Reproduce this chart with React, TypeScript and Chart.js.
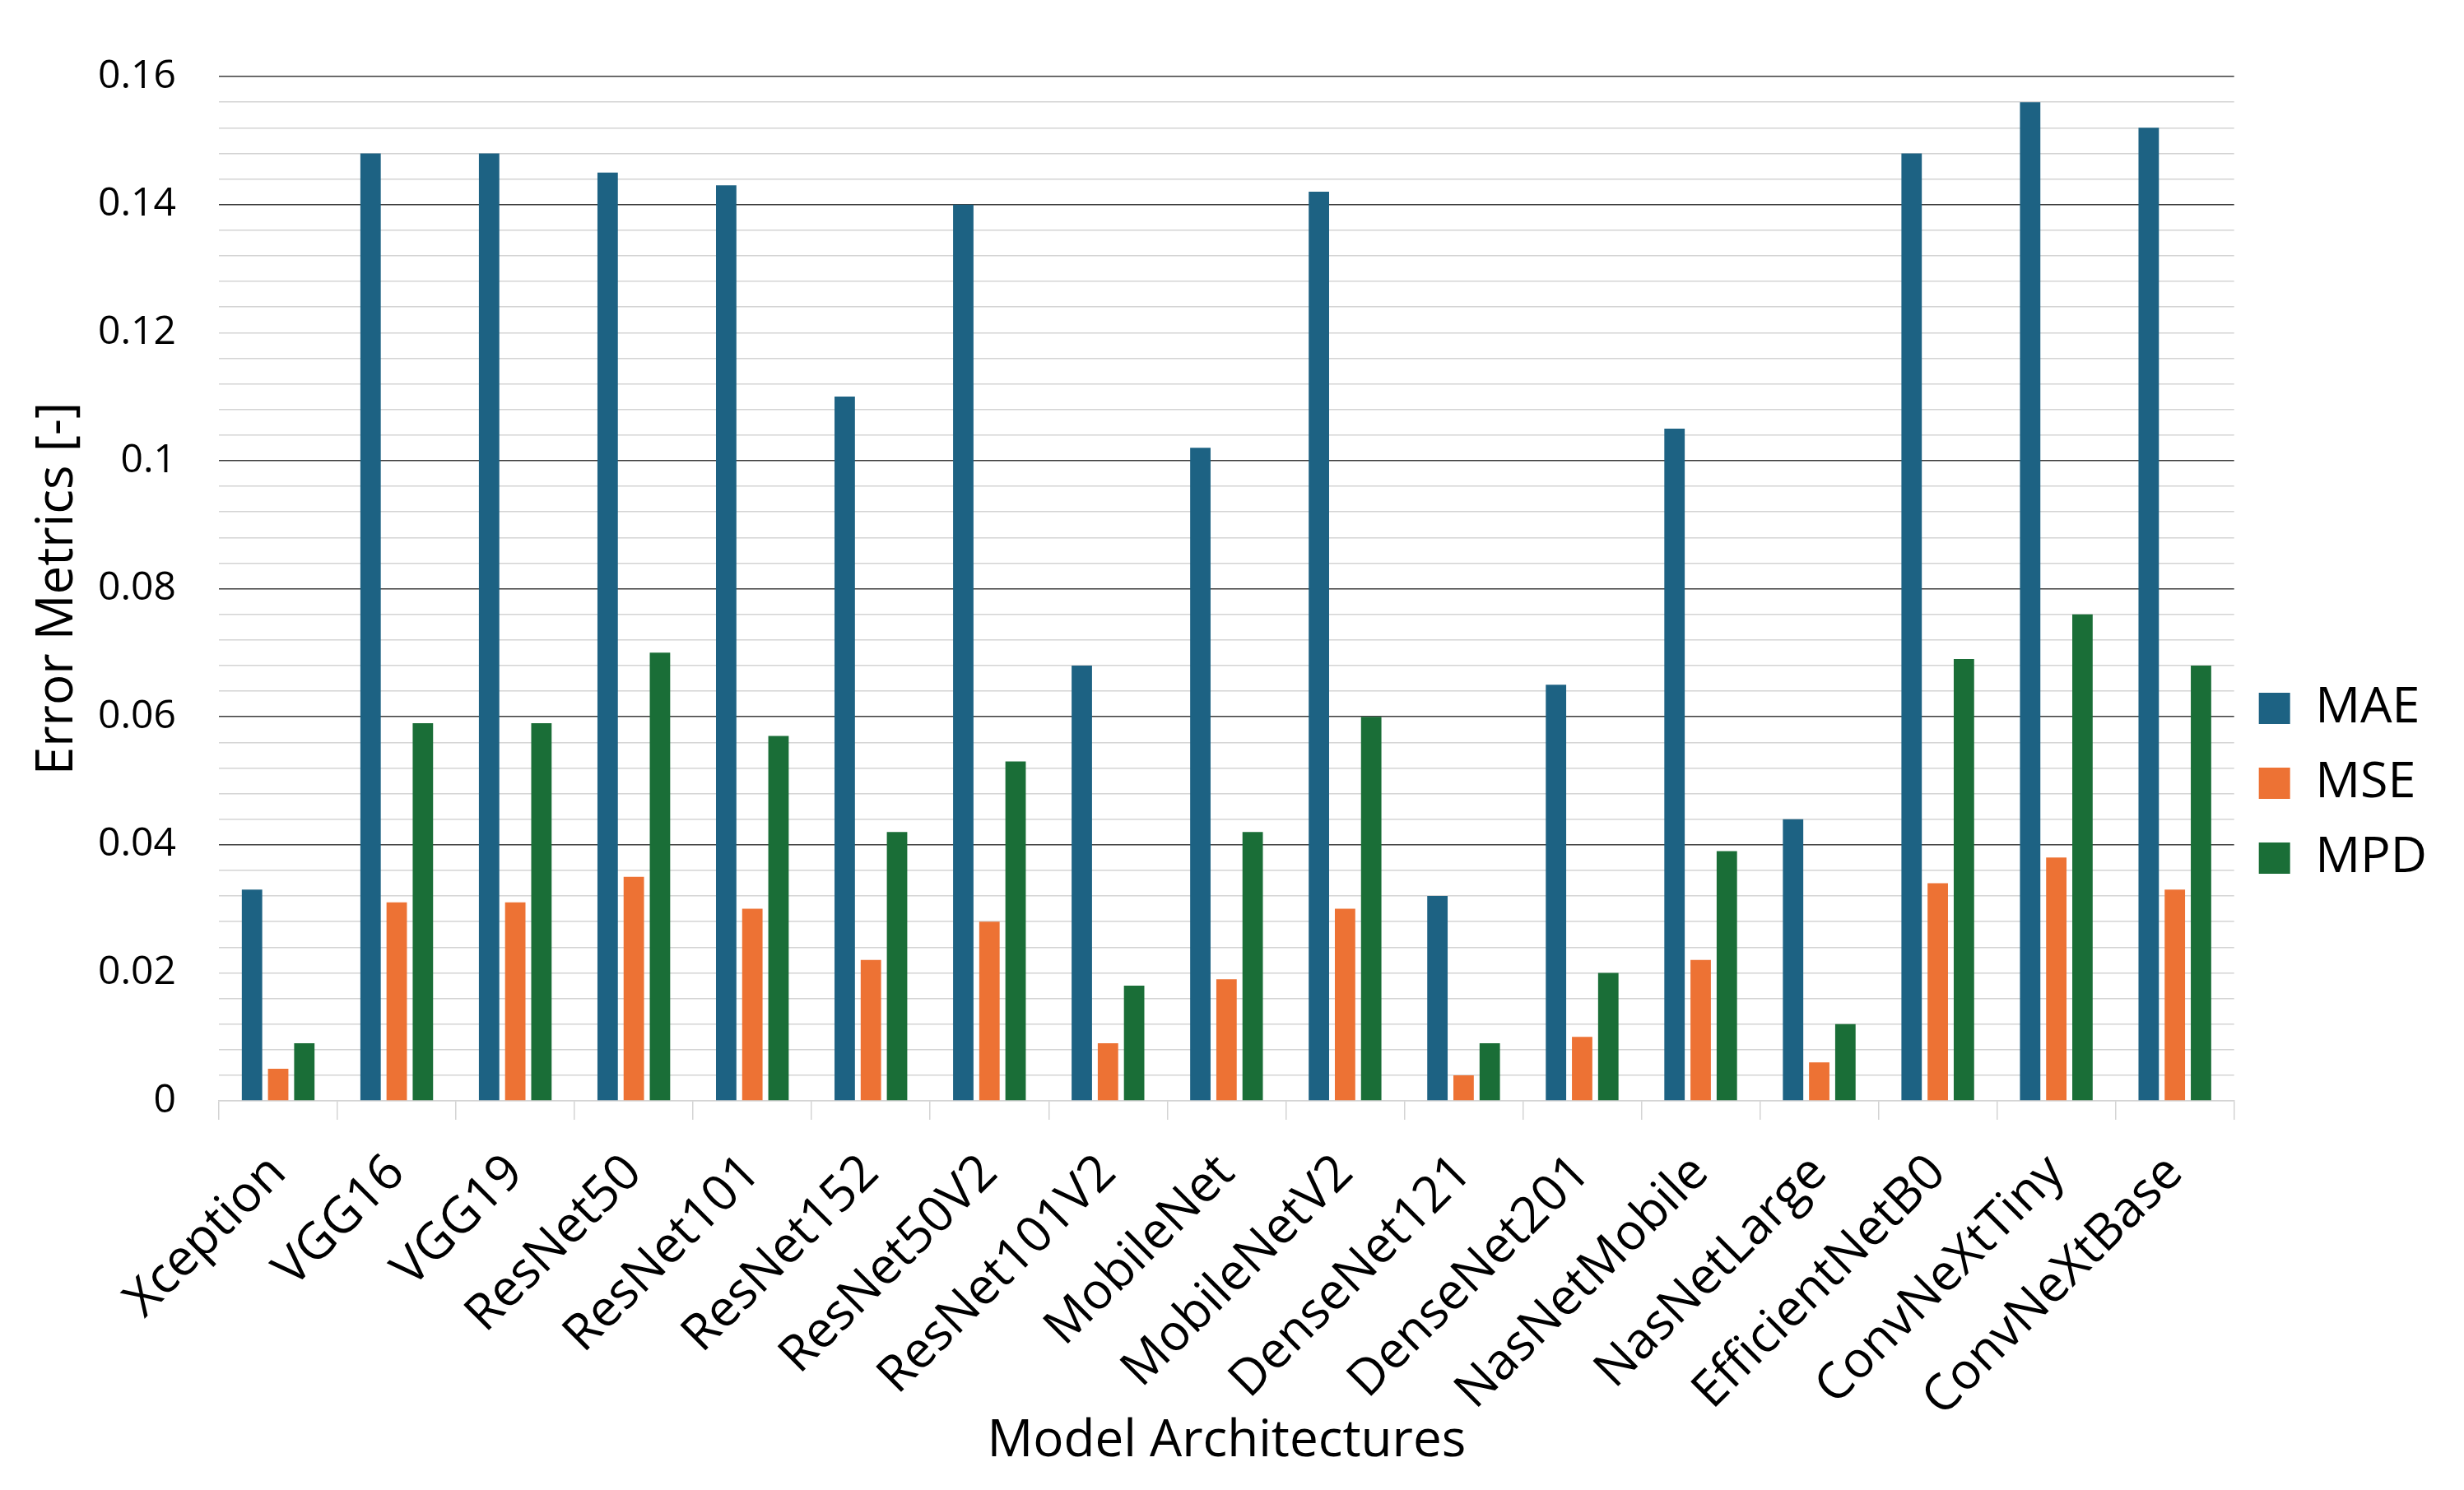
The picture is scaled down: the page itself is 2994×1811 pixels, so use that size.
import React, { useEffect, useRef } from 'react';
import { Chart, registerables } from 'chart.js';

Chart.register(...registerables);

const categories = [
  'Xception', 'VGG16', 'VGG19', 'ResNet50', 'ResNet101', 'ResNet152', 'ResNet50V2',
  'ResNet101V2', 'MobileNet', 'MobileNetV2', 'DenseNet121', 'DenseNet201',
  'NasNetMobile', 'NasNetLarge', 'EfficientNetB0', 'ConvNeXtTiny', 'ConvNeXtBase',
];
const maeValues = [0.033, 0.148, 0.148, 0.145, 0.143, 0.110, 0.140, 0.068, 0.102, 0.142, 0.032, 0.065, 0.105, 0.044, 0.148, 0.156, 0.152];
const mseValues = [0.005, 0.031, 0.031, 0.035, 0.030, 0.022, 0.028, 0.009, 0.019, 0.030, 0.004, 0.010, 0.022, 0.006, 0.034, 0.038, 0.033];
const mpdValues = [0.009, 0.059, 0.059, 0.070, 0.057, 0.042, 0.053, 0.018, 0.042, 0.060, 0.009, 0.020, 0.039, 0.012, 0.069, 0.076, 0.068];
const seriesLabels = ['MAE', 'MSE', 'MPD'];
const yTickLabels = ['0', '0.02', '0.04', '0.06', '0.08', '0.1', '0.12', '0.14', '0.16'];
const xTitle = 'Model Architectures';
const yTitle = 'Error Metrics [-]';

const COLORS = ['#1d6283', '#ed7234', '#1a6e37'];
const FONT = "'Open Sans', sans-serif";
const DARK_GRID = '#3c3c3c';
const LIGHT_GRID = '#d4d4d4';
const LIGHT_MAJORS = [0, 1, 6]; // major grid indices drawn light in the reference

export default function App() {
  const canvasRef = useRef<HTMLCanvasElement | null>(null);

  useEffect(() => {
    if (!canvasRef.current) return;
    const series = [maeValues, mseValues, mpdValues];
    const chart = new Chart(canvasRef.current, {
      type: 'bar',
      data: {
        labels: categories,
        datasets: series.map((vals, i) => ({
          label: seriesLabels[i],
          data: vals,
          backgroundColor: COLORS[i],
          borderWidth: 0,
          categoryPercentage: 0.662,
          barPercentage: 0.78,
        })),
      },
      options: {
        animation: false,
        responsive: true,
        maintainAspectRatio: false,
        devicePixelRatio: 1,
        layout: { padding: { top: 93, right: 35, bottom: 0, left: 0 } },
        plugins: {
          tooltip: { enabled: false },
          legend: {
            position: 'right',
            align: 'center',
            labels: {
              font: { family: FONT, size: 61 },
              color: '#000',
              boxWidth: 38,
              boxHeight: 38,
              padding: 30,
            },
          },
        },
        scales: {
          x: {
            grid: {
              display: true,
              drawOnChartArea: false,
              drawTicks: true,
              tickLength: 23,
              color: LIGHT_GRID,
              lineWidth: 1.5,
            },
            border: { display: true, color: LIGHT_GRID, width: 1.5 },
            ticks: {
              font: { family: FONT, size: 61 },
              color: '#000',
              minRotation: 45,
              maxRotation: 45,
              padding: 29,
              autoSkip: false,
            },
            title: {
              display: true,
              text: xTitle,
              font: { family: FONT, size: 62 },
              color: '#000',
              padding: { top: 0, bottom: 21 },
            },
            afterFit: (scale: any) => { scale.height = 473; },
          },
          y: {
            min: 0,
            max: 0.16,
            grid: {
              drawTicks: false,
              color: (ctx: any) => {
                const v = ctx.tick ? ctx.tick.value : 0;
                const k = Math.round(v / 0.004);
                if (k % 5 !== 0) return LIGHT_GRID;
                const idx = k / 5;
                return LIGHT_MAJORS.includes(idx) ? LIGHT_GRID : DARK_GRID;
              },
              lineWidth: 1.4,
            },
            border: { display: false },
            ticks: {
              stepSize: 0.004,
              autoSkip: false,
              font: { family: FONT, size: 48 },
              color: '#000',
              padding: 52,
              callback: (value: any) => {
                const k = Math.round(Number(value) / 0.004);
                if (k % 5 !== 0) return '';
                return yTickLabels[k / 5];
              },
            },
            title: {
              display: true,
              text: yTitle,
              font: { family: FONT, size: 62 },
              color: '#000',
              padding: { top: 33, bottom: 0 },
            },
            afterFit: (scale: any) => { scale.width = 266; },
          },
        },
      },
    });
    return () => chart.destroy();
  }, []);

  return (
    <div style={{ position: 'absolute', left: 0, top: 0, width: 2994, height: 1811, background: '#fff' }}>
      <canvas ref={canvasRef} />
    </div>
  );
}
